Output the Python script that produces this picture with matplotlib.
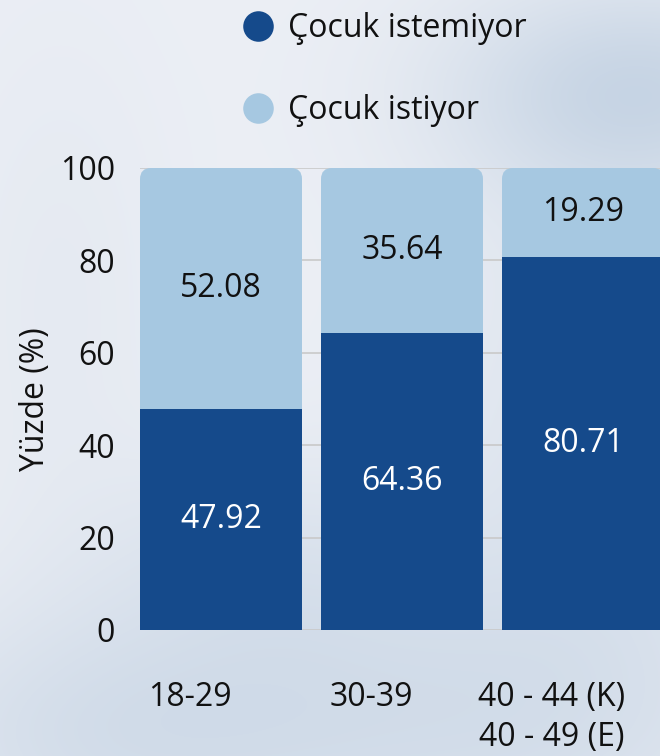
import numpy as np
import matplotlib
matplotlib.use("Agg")
import matplotlib.pyplot as plt
from matplotlib.patches import FancyBboxPatch
from matplotlib.lines import Line2D
import matplotlib.transforms as mtransforms

plt.rcParams['font.family'] = ['Open Sans', 'DejaVu Sans']

categories = ["18-29", "30-39", "40 - 44 (K)\n40 - 49 (E)"]
no_child = [47.92, 64.36, 80.71]      # Çocuk istemiyor
want_child = [52.08, 35.64, 19.29]    # Çocuk istiyor
series_names = ["Çocuk istemiyor", "Çocuk istiyor"]
yticks = [0, 20, 40, 60, 80, 100]

DARK = "#154a8b"
LIGHT = "#a6c8e1"
FS = 23

W, H = 660, 756
fig = plt.figure(figsize=(W / 100, H / 100), dpi=100)

# decorative watercolor-like background
bg = fig.add_axes([0, 0, 1, 1], zorder=-10)
yy, xx = np.mgrid[0:H, 0:W]
def blob(cx, cy, sx, sy, a):
    return a * np.exp(-(((xx - cx) / sx) ** 2 + ((yy - cy) / sy) ** 2) / 2)
t = (blob(640, 90, 140, 80, 0.8) + blob(420, 720, 260, 120, 0.55)
     + blob(80, 740, 160, 90, 0.35) + blob(600, 420, 120, 200, 0.35)
     + blob(260, 560, 120, 80, 0.25) + blob(60, 300, 80, 200, 0.15))
t = np.clip(t, 0, 1)[..., None]
c0 = np.array([0xec, 0xef, 0xf5]) / 255
c1 = np.array([0xc2, 0xd1, 0xe2]) / 255
img = c0 * (1 - t) + c1 * t
bg.imshow(img, extent=[0, W, H, 0], aspect='auto')
bg.axis('off')

ax = fig.add_axes([140 / W, 126 / H, 1 - 140 / W, 462 / H])
ax.patch.set_alpha(0)
bw = 0.895
x = np.arange(len(categories))
ax.set_xlim(-bw / 2, -bw / 2 + 520 / 181)
ax.set_ylim(0, 100)

for yv in yticks:
    ax.axhline(yv, color="#c9c9c9", lw=1.2, zorder=0)

bars_light = ax.bar(x, want_child, bw, bottom=no_child, color=LIGHT, zorder=2)
bars_dark = ax.bar(x, no_child, bw, color=DARK, zorder=3)

fig.canvas.draw()
# rounded tops for light bars (extend down to 0, hidden by dark bars)
px_per_x = ax.transData.transform((1, 0))[0] - ax.transData.transform((0, 0))[0]
px_per_y = ax.transData.transform((0, 1))[1] - ax.transData.transform((0, 0))[1]
r_px = 11
for b in bars_light:
    b.set_visible(False)
    top = b.get_y() + b.get_height()
    p = FancyBboxPatch((b.get_x(), 0), b.get_width(), top,
                       boxstyle=f"round,pad=0,rounding_size={r_px / px_per_x}",
                       mutation_aspect=px_per_x / px_per_y,
                       facecolor=LIGHT, edgecolor='none', zorder=2)
    ax.add_patch(p)

for i in range(len(categories)):
    ax.text(x[i], no_child[i] / 2, f"{no_child[i]:.2f}", ha='center', va='center',
            color='white', fontsize=FS, zorder=5)
    ax.text(x[i], no_child[i] + want_child[i] / 2, f"{want_child[i]:.2f}", ha='center',
            va='center', color='#111111', fontsize=FS, zorder=5)

ax.set_yticks(yticks)
ax.set_yticklabels([str(v) for v in yticks], fontsize=FS, color='#111111')
ax.set_xticks(x)
ax.set_xticklabels(categories, fontsize=FS, color='#111111', linespacing=1.25)
ax.tick_params(axis='both', length=0)
ax.tick_params(axis='y', pad=18)
ax.tick_params(axis='x', pad=37)
off = mtransforms.ScaledTranslation(-31 / 100, 0, fig.dpi_scale_trans)
for lbl in ax.get_xticklabels():
    lbl.set_transform(lbl.get_transform() + off)
for s in ax.spines.values():
    s.set_visible(False)
ax.set_ylabel("Yüzde (%)", fontsize=FS, color='#111111', labelpad=6)

handles = [Line2D([], [], marker='o', ls='none', markersize=22, markerfacecolor=DARK,
                  markeredgecolor='none'),
           Line2D([], [], marker='o', ls='none', markersize=22, markerfacecolor=LIGHT,
                  markeredgecolor='none')]
fig.legend(handles, series_names, loc='upper left', bbox_to_anchor=(213 / W, 1 + 17 / H),
           frameon=False, fontsize=FS, labelspacing=1.55, handletextpad=0.45,
           handlelength=1.0, labelcolor='#111111')

fig.savefig("out.png", dpi=100)
